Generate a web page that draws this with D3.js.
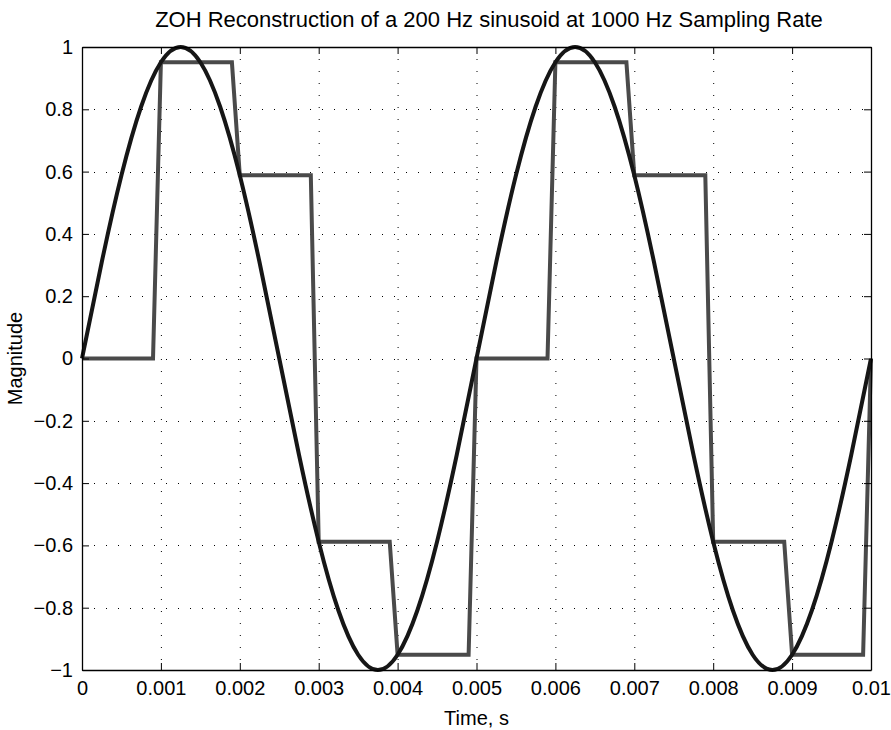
<!DOCTYPE html>
<html>
<head>
<meta charset="utf-8">
<script src="https://cdn.jsdelivr.net/npm/d3@7/dist/d3.min.js"></script>
<style>
  html, body { margin: 0; padding: 0; background: #fff; }
  svg { display: block; }
  text { font-family: "Liberation Sans", Arial, Helvetica, sans-serif; fill: #000; }
</style>
</head>
<body>
<svg id="chart" width="891" height="730"></svg>
<script>
// ---- data ----
const titleText = "ZOH Reconstruction of a 200 Hz sinusoid at 1000 Hz Sampling Rate";
const xLabel = "Time, s";
const yLabel = "Magnitude";

// continuous 200 Hz sinusoid, read every 0.00025 s
const sineTimes = [0,0.00025,0.0005,0.00075,0.001,0.00125,0.0015,0.00175,0.002,0.00225,
  0.0025,0.00275,0.003,0.00325,0.0035,0.00375,0.004,0.00425,0.0045,0.00475,
  0.005,0.00525,0.0055,0.00575,0.006,0.00625,0.0065,0.00675,0.007,0.00725,
  0.0075,0.00775,0.008,0.00825,0.0085,0.00875,0.009,0.00925,0.0095,0.00975,0.01];
const sineValues = [0,0.309,0.588,0.809,0.951,1,0.951,0.809,0.588,0.309,
  0,-0.309,-0.588,-0.809,-0.951,-1,-0.951,-0.809,-0.588,-0.309,
  0,0.309,0.588,0.809,0.951,1,0.951,0.809,0.588,0.309,
  0,-0.309,-0.588,-0.809,-0.951,-1,-0.951,-0.809,-0.588,-0.309,0];

// zero-order-hold staircase vertices (held value, then ramp to next sample)
const zohTimes = [0,0.0009,0.001,0.0019,0.002,0.0029,0.003,0.0039,0.004,0.0049,
  0.005,0.0059,0.006,0.0069,0.007,0.0079,0.008,0.0089,0.009,0.0099,0.01];
const zohValues = [0,0,0.951,0.951,0.588,0.588,-0.588,-0.588,-0.951,-0.951,
  0,0,0.951,0.951,0.588,0.588,-0.588,-0.588,-0.951,-0.951,0];

const xTicks = [0,0.001,0.002,0.003,0.004,0.005,0.006,0.007,0.008,0.009,0.01];
const xTickLabels = ["0","0.001","0.002","0.003","0.004","0.005","0.006","0.007","0.008","0.009","0.01"];
const yTicks = [-1,-0.8,-0.6,-0.4,-0.2,0,0.2,0.4,0.6,0.8,1];
const yTickLabels = ["\u22121","\u22120.8","\u22120.6","\u22120.4","\u22120.2","0","0.2","0.4","0.6","0.8","1"];

// ---- layout ----
const L = 82, R = 871, T = 47, B = 670;
const svg = d3.select("#chart");
const x = d3.scaleLinear().domain([0, 0.01]).range([L, R]);
const y = d3.scaleLinear().domain([-1, 1]).range([B, T]);
const fontSize = 20;

// grid
const grid = svg.append("g");
grid.selectAll("line.gx").data(xTicks.slice(1, -1)).enter().append("line")
  .attr("x1", d => x(d) + 0.5).attr("x2", d => x(d) + 0.5)
  .attr("y1", T).attr("y2", B)
  .attr("stroke", "#000").attr("stroke-width", 1).attr("stroke-dasharray", "1,11");
grid.selectAll("line.gy").data(yTicks.slice(1, -1)).enter().append("line")
  .attr("y1", d => Math.round(y(d)) + 0.5).attr("y2", d => Math.round(y(d)) + 0.5)
  .attr("x1", L).attr("x2", R)
  .attr("stroke", "#000").attr("stroke-width", 1).attr("stroke-dasharray", "1,11");

// clip
svg.append("clipPath").attr("id", "clip").append("rect")
  .attr("x", L - 3).attr("y", T - 3).attr("width", R - L + 6).attr("height", B - T + 6);

// ZOH line
const zohData = zohTimes.map((t, i) => [t, zohValues[i]]);
svg.append("path").datum(zohData)
  .attr("clip-path", "url(#clip)")
  .attr("fill", "none").attr("stroke", "#4a4a4a").attr("stroke-width", 4)
  .attr("stroke-linejoin", "miter")
  .attr("d", d3.line().x(d => x(d[0])).y(d => y(d[1])));

// sine line
const sineData = sineTimes.map((t, i) => [t, sineValues[i]]);
svg.append("path").datum(sineData)
  .attr("clip-path", "url(#clip)")
  .attr("fill", "none").attr("stroke", "#161616").attr("stroke-width", 4)
  .attr("d", d3.line().curve(d3.curveNatural).x(d => x(d[0])).y(d => y(d[1])));

// axes (MATLAB style box with inward ticks)
const tickLen = 7;
const bottomAxis = d3.axisBottom(x).tickValues(xTicks).tickSizeInner(-tickLen).tickSizeOuter(0)
  .tickPadding(11).tickFormat((d, i) => xTickLabels[i]);
const topAxis = d3.axisTop(x).tickValues(xTicks).tickSizeInner(-tickLen).tickSizeOuter(0).tickFormat("");
const leftAxis = d3.axisLeft(y).tickValues(yTicks).tickSizeInner(-tickLen).tickSizeOuter(0)
  .tickPadding(9).tickFormat((d, i) => yTickLabels[i]);
const rightAxis = d3.axisRight(y).tickValues(yTicks).tickSizeInner(-tickLen).tickSizeOuter(0).tickFormat("");

function style(g) {
  g.selectAll("path.domain").attr("stroke", "#000").attr("stroke-width", 1.3);
  g.selectAll(".tick line").attr("stroke", "#000").attr("stroke-width", 1);
  g.selectAll("text").style("font-size", fontSize + "px").attr("fill", "#000");
}
svg.append("g").attr("transform", `translate(0,${B})`).call(bottomAxis).call(style);
svg.append("g").attr("transform", `translate(0,${T})`).call(topAxis).call(style);
svg.append("g").attr("transform", `translate(${L},0)`).call(leftAxis).call(style);
svg.append("g").attr("transform", `translate(${R},0)`).call(rightAxis).call(style);

// title & labels
svg.append("text").attr("x", 489).attr("y", 27)
  .attr("text-anchor", "middle").style("font-size", "22px").text(titleText);
svg.append("text").attr("x", (L + R) / 2).attr("y", 725)
  .attr("text-anchor", "middle").style("font-size", fontSize + "px").text(xLabel);
svg.append("text").attr("transform", `translate(22,${(T + B) / 2}) rotate(-90)`)
  .attr("text-anchor", "middle").style("font-size", fontSize + "px").text(yLabel);
</script>
</body>
</html>
